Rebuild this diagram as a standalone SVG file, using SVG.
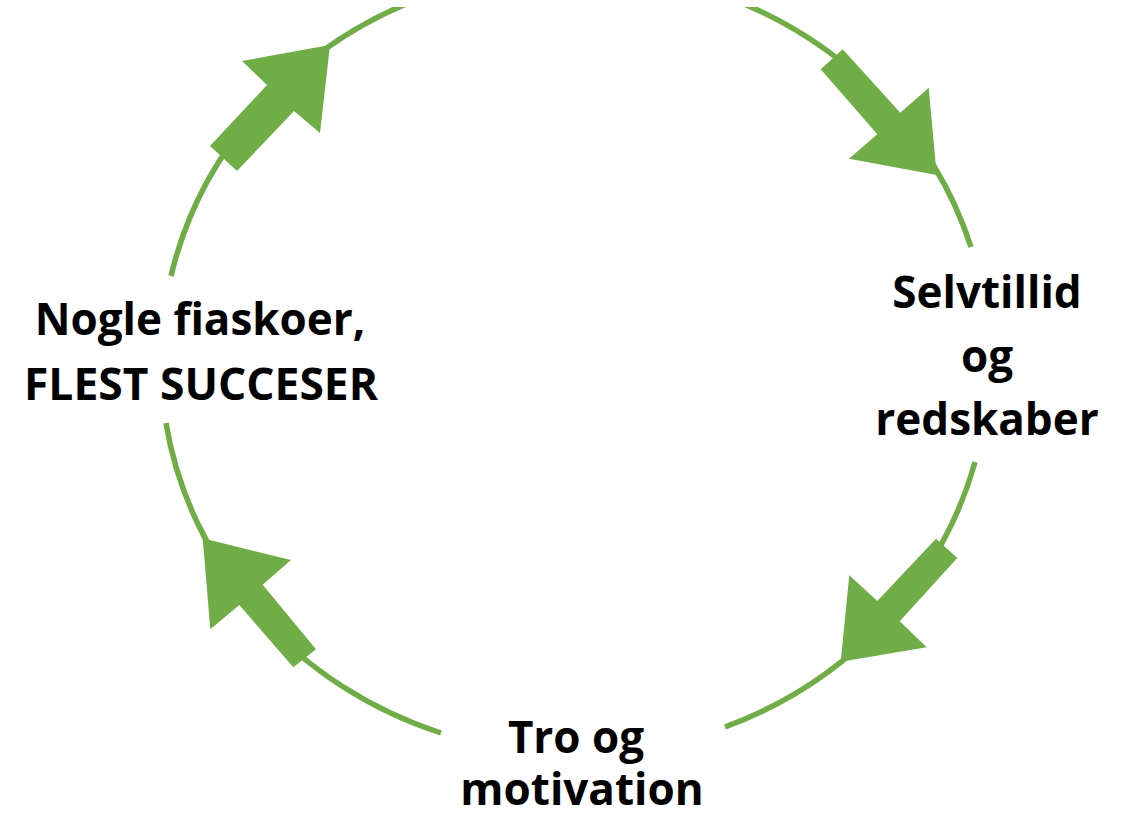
<svg xmlns="http://www.w3.org/2000/svg" width="1122" height="815" viewBox="0 0 1122 815">
<style>
.arc{fill:none;stroke:#70AD47;stroke-width:5.5}
.arrow{fill:#70AD47;stroke:none}
.lbl{font-family:"Open Sans","Liberation Sans",sans-serif;font-weight:bold;font-size:44px;fill:#000;text-anchor:middle}
</style>
<defs>
<clipPath id="clipTop"><rect x="0" y="7" width="1122" height="808"/></clipPath>
</defs>
<rect x="0" y="0" width="1122" height="815" fill="#fff"/>
<g id="connectors" clip-path="url(#clipTop)">
<path class="arc" d="M171,276 A414,392 0 0 1 421,-2"/>
<path class="arc" d="M729,-2 A414,392 0 0 1 971,247"/>
<path class="arc" d="M975,462 A414,392 0 0 1 725,727"/>
<path class="arc" d="M441,733 A414,392 0 0 1 166,423"/>
<polygon class="arrow" points="210,146 267,85 242,61 330,45 320,133 294,111 237,171"/>
<polygon class="arrow" points="842.7,49.3 900.3,112.7 928.7,87.7 936.7,175 849,158.7 877.3,134.3 820.7,69.3"/>
<polygon class="arrow" points="957.3,558 899.7,621.3 926.7,647.3 840.7,661.7 849.3,575.3 877.3,601 936,538.7"/>
<polygon class="arrow" points="202.7,538.3 291,560 262.7,584.7 316,649.3 293.3,667.3 239.3,605 210.3,629.3"/>
</g>
<g id="node-left">
<text class="lbl" x="200" y="335">Nogle fiaskoer,</text>
<text class="lbl" x="201" y="400" textLength="354" lengthAdjust="spacingAndGlyphs">FLEST SUCCESER</text>
</g>
<g id="node-right">
<text class="lbl" x="987" y="308">Selvtillid</text>
<text class="lbl" x="987" y="372">og</text>
<text class="lbl" x="987" y="435">redskaber</text>
</g>
<g id="node-bottom">
<text class="lbl" x="576" y="753">Tro og</text>
<text class="lbl" x="582" y="805">motivation</text>
</g>
</svg>
